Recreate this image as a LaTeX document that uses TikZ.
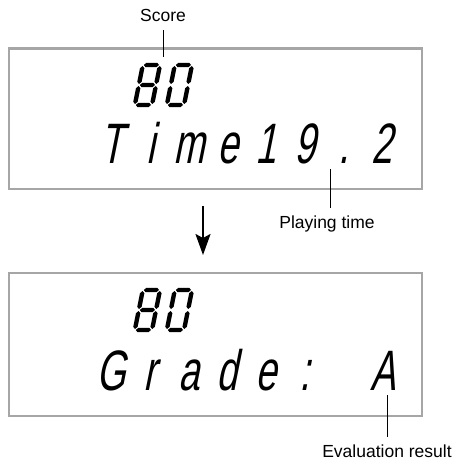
\documentclass[tikz,border=0pt]{standalone}
\usepackage{fontspec}
\setmainfont{Liberation Sans}
\newfontfamily\lcdfont[FakeSlant=0.2,FakeStretch=0.66]{Liberation Sans}
\usetikzlibrary{arrows.meta}
\newcommand\hseg[3]{\fill ({#1+1},{#3}) -- ({#1+3.2},{#3-2.2}) -- ({#2-3.2},{#3-2.2}) -- ({#2-1},{#3}) -- ({#2-3.2},{#3+2.2}) -- ({#1+3.2},{#3+2.2}) -- cycle;}
\newcommand\vseg[3]{\fill ({#1},{#2+1}) -- ({#1+2.2},{#2+3.2}) -- ({#1+2.2},{#3-3.2}) -- ({#1},{#3-1}) -- ({#1-2.2},{#3-3.2}) -- ({#1-2.2},{#2+3.2}) -- cycle;}
\newcommand\digiteight{\hseg{2.4}{19.6}{-42}\hseg{2.4}{19.6}{-22}\hseg{2.4}{19.6}{-2}\vseg{2.4}{-42}{-22}\vseg{19.6}{-42}{-22}\vseg{2.4}{-22}{-2}\vseg{19.6}{-22}{-2}}
\newcommand\digitzero{\hseg{2.4}{19.6}{-42}\hseg{2.4}{19.6}{-2}\vseg{2.4}{-42}{-22}\vseg{19.6}{-42}{-22}\vseg{2.4}{-22}{-2}\vseg{19.6}{-22}{-2}}
\begin{document}
\begin{tikzpicture}[x=1pt,y=-1pt,
  lcdbox/.style={draw=black!35,line width=2.8pt},
  lcdchar/.style={font=\lcdfont\fontsize{57}{57}\selectfont,anchor=base,inner sep=0pt},
  label/.style={font=\fontsize{17.5}{18}\selectfont,anchor=base,inner sep=0pt},
  leader/.style={line width=0.9pt},
  flowarrow/.style={line width=2.2pt,-{Stealth[width=15pt,length=21pt,inset=4pt]}}]
\useasboundingbox (0,0) rectangle (461,460);
% boxes
\draw[lcdbox] (9,48.5) rectangle (422,189);
\draw[lcdbox] (9,273) rectangle (422,416);
% seven segment "80"
\begin{scope}[shift={(132,107)},xslant=0.2]\digiteight\end{scope}
\begin{scope}[shift={(164,107)},xslant=0.2]\digitzero\end{scope}
\begin{scope}[shift={(132,332)},xslant=0.2]\digiteight\end{scope}
\begin{scope}[shift={(164,332)},xslant=0.2]\digitzero\end{scope}
% top line text
\foreach \c [count=\i from 0] in {T,i,m,e,1,9,.,2}
  \node[lcdchar] (t\i) at ({112+38.6*\i},163) {\c};
% bottom line text
\foreach \c [count=\i from 0] in {G,r,a,d,e,:,{},A}
  \node[lcdchar] (g\i) at ({111+38.8*\i},390) {\c};
% labels
\node[label] (score) at (163,21.5) {Score};
\coordinate (scoreTip) at (163,57);
\draw[leader] (score.base) ++(0,8.5) -- (scoreTip);
\node[label] (ptime) at (327,228) {Playing time};
\coordinate (ptTip) at (330,169);
\draw[leader] (ptTip) -- (330,208);
\node[label] (eval) at (387,457.5) {Evaluation result};
\coordinate (evTip) at (387,395);
\draw[leader] (evTip) -- (387,437);
% arrow
\coordinate (arrA) at (203,206);
\coordinate (arrB) at (203,255);
\draw[flowarrow] (arrA) -- (arrB);
\end{tikzpicture}
\end{document}
